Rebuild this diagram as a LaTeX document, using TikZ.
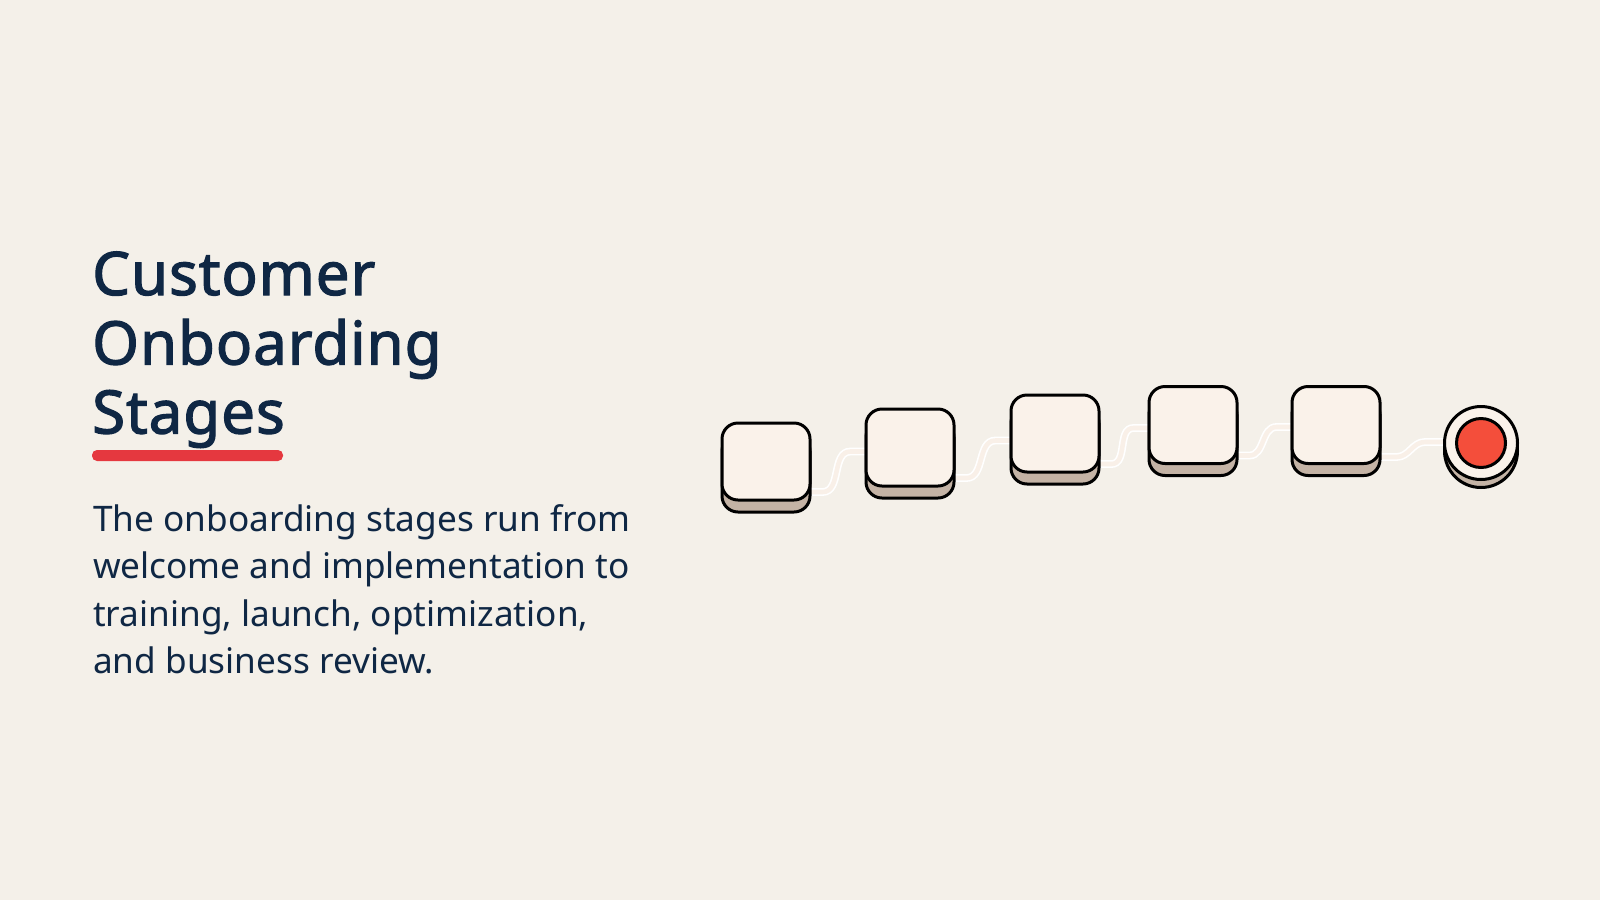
\documentclass[tikz,border=0pt]{standalone}
\usepackage{fontspec}
\setmainfont{Noto Sans}
\newfontfamily\titlefont[FakeBold=2,LetterSpace=1.6]{Noto Sans}
\usetikzlibrary{calc,shadows}
\definecolor{bgc}{HTML}{F4F0E9}
\definecolor{navy}{HTML}{0F2744}
\definecolor{accent}{HTML}{E5383F}
\definecolor{facec}{HTML}{FAF2EA}
\definecolor{shadec}{HTML}{C4B3A5}
\definecolor{dotred}{HTML}{F44E3B}
\definecolor{linkc}{HTML}{F9F0E8}
\pgfdeclarelayer{back}
\pgfdeclarelayer{links}
\pgfsetlayers{back,links,main}
\tikzset{
  stagebox/.style={draw=black, line width=3pt, fill=facec, rounded corners=16pt,
    minimum width=88pt, minimum height=77pt, inner sep=0pt,
    copy shadow={shadow xshift=0pt, shadow yshift=-12pt, fill=shadec, draw=black, line width=3pt}},
  endring/.style={circle, draw=black, line width=3pt, fill=facec, minimum size=73pt, inner sep=0pt,
    copy shadow={shadow xshift=0pt, shadow yshift=-8pt, fill=shadec, draw=black, line width=3pt}},
  enddot/.style={circle, draw=black, line width=3pt, fill=dotred, minimum size=49pt, inner sep=0pt},
  link/.style={draw=white, line width=1.6pt, double=linkc, double distance=4.6pt},
  titletxt/.style={anchor=base west, inner sep=0pt, text=navy, font=\titlefont\fontsize{60}{69}\selectfont},
  bodytxt/.style={anchor=base west, inner sep=0pt, text=navy, font=\fontsize{35.2}{46.7}\selectfont},
}
\begin{document}
\begin{tikzpicture}[x=1pt,y=-1pt]
\begin{pgfonlayer}{back}
\fill[bgc] (0,0) rectangle (1600,900);
\end{pgfonlayer}
\useasboundingbox (0,0) rectangle (1600,900);
% title
\node[titletxt] (t1) at (92,295) {Customer};
\node[titletxt] (t2) at (92,364.5) {Onboarding};
\node[titletxt] (t3) at (92,433.5) {Stages};
\fill[accent, rounded corners=5pt] (92,450) rectangle (283,461);
% body
\node[bodytxt] (l1) at (93,531.7) {The onboarding stages run from};
\node[bodytxt] (l2) at (93,578.4) {welcome and implementation to};
\node[bodytxt] (l3) at (93,626.7) {training, launch, optimization,};
\node[bodytxt] (l4) at (93,673.3) {and business review.};
% stages
\node[stagebox] (b1) at (766,461.5) {};
\node[stagebox] (b2) at (910,447.5) {};
\node[stagebox] (b3) at (1055,433.5) {};
\node[stagebox] (b4) at (1193,425) {};
\node[stagebox] (b5) at (1336,425) {};
\node[endring] (c0) at (1481,443) {};
\node[enddot] (c1) at (c0.center) {};
% links
\begin{pgfonlayer}{links}
\foreach \a/\b/\dy in {b1/b2/4, b2/b3/7, b3/b4/3, b4/b5/2} {
  \draw[link] ($(\a.south east)+(-3,-9.5)$) -- ++(14,0)
     to[out=0,in=180] ($(\b.west)+(-14,\dy)$) -- ($(\b.west)+(4,\dy)$);
}
\draw[link] ($(b5.south east)+(-3,-8)$) -- ++(18,0)
     to[out=0,in=180] ($(c0.west)+(-18,-1)$) -- ($(c0.west)+(4,-1)$);
\end{pgfonlayer}
\end{tikzpicture}
\end{document}
